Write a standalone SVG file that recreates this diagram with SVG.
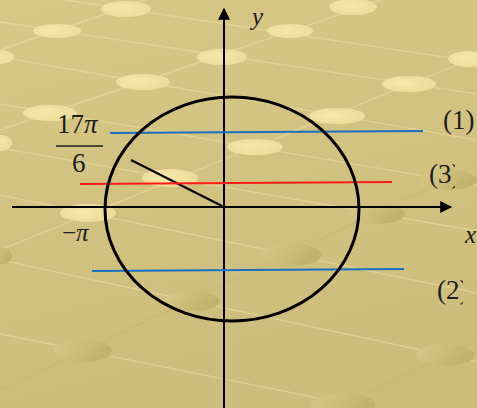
<svg xmlns="http://www.w3.org/2000/svg" width="477" height="408" viewBox="0 0 477 408">
<defs>
<linearGradient id="bg" x1="0" y1="0" x2="0.3" y2="1">
<stop offset="0" stop-color="#d8c888"/>
<stop offset="1" stop-color="#cdbd7c"/>
</linearGradient>
<radialGradient id="lt" cx="0.4" cy="0.45" r="0.6">
<stop offset="0" stop-color="#f6e9aa"/>
<stop offset="1" stop-color="#eddc9b"/>
</radialGradient>
<linearGradient id="dk" x1="0" y1="0" x2="1" y2="0.3">
<stop offset="0" stop-color="#d9c98a"/>
<stop offset="1" stop-color="#c2b16d"/>
</linearGradient>
<clipPath id="cpi"><rect x="0" y="215" width="91" height="30"/></clipPath>
<clipPath id="c3"><rect x="420" y="155" width="35" height="35"/></clipPath>
<clipPath id="c2"><rect x="430" y="270" width="33" height="35"/></clipPath>
<marker id="ah" viewBox="0 0 10 10" refX="9" refY="5" markerWidth="15" markerHeight="12" markerUnits="userSpaceOnUse" orient="auto">
<path d="M0,0 L10,5 L0,10 z" fill="#000"/>
</marker>
<style>
.gl{stroke:#ecdda0;stroke-width:1.5;opacity:.55;fill:none}
.gd{stroke:#bfae6c;stroke-width:1.2;opacity:.35;fill:none}
.l{fill:url(#lt)}
.d{fill:url(#dk)}
.t{font-family:"Liberation Serif","Times New Roman",serif;fill:#1e1e1e}
.it{font-style:italic}
</style>
</defs>
<g id="background">
<rect width="477" height="408" fill="url(#bg)"/>
<line class="gl" x1="0" y1="-10" x2="477" y2="62"/>
<line class="gl" x1="0" y1="22" x2="477" y2="94"/>
<line class="gl" x1="0" y1="57" x2="477" y2="140"/>
<line class="gl" x1="0" y1="104" x2="477" y2="185"/>
<line class="gl" x1="0" y1="148" x2="477" y2="231"/>
<line class="gl" x1="0" y1="195" x2="477" y2="293"/>
<line class="gl" x1="0" y1="260" x2="477" y2="362"/>
<line class="gl" x1="0" y1="334" x2="477" y2="430"/>
<line class="gl" x1="0" y1="50" x2="160" y2="-5"/>
<line class="gl" x1="0" y1="130" x2="382" y2="0"/>
<line class="gl" x1="0" y1="250" x2="477" y2="57"/>
<line class="gd" x1="0" y1="390" x2="477" y2="165"/>
<line class="gd" x1="260" y1="445" x2="477" y2="340"/>
<ellipse class="l" cx="126" cy="9" rx="25" ry="8"/>
<ellipse class="l" cx="353" cy="7" rx="24" ry="8"/>
<ellipse class="l" cx="57" cy="31" rx="24" ry="7"/>
<ellipse class="l" cx="290" cy="31" rx="23" ry="7"/>
<ellipse class="l" cx="0" cy="57" rx="14" ry="7"/>
<ellipse class="l" cx="222" cy="57" rx="25" ry="8"/>
<ellipse class="l" cx="470" cy="59" rx="22" ry="8"/>
<ellipse class="l" cx="143" cy="82" rx="27" ry="8"/>
<ellipse class="l" cx="409" cy="84" rx="27" ry="8"/>
<ellipse class="l" cx="50" cy="113" rx="27" ry="8"/>
<ellipse class="l" cx="337" cy="116" rx="28" ry="8"/>
<ellipse class="l" cx="0" cy="143" rx="12" ry="8"/>
<ellipse class="l" cx="255" cy="147" rx="28" ry="8"/>
<ellipse class="l" cx="170" cy="178" rx="28" ry="9"/>
<ellipse class="l" cx="88" cy="213" rx="28" ry="9"/>
<ellipse class="d" cx="448" cy="180" rx="29" ry="10"/>
<ellipse class="d" cx="377" cy="214" rx="28" ry="10"/>
<ellipse class="d" cx="0" cy="256" rx="12" ry="9"/>
<ellipse class="d" cx="292" cy="255" rx="29" ry="11"/>
<ellipse class="d" cx="192" cy="301" rx="28" ry="10"/>
<ellipse class="d" cx="83" cy="351" rx="29" ry="11"/>
<ellipse class="d" cx="445" cy="355" rx="29" ry="11"/>
<ellipse class="d" cx="343" cy="405" rx="32" ry="12"/>
</g>
<g id="connectors" fill="none">
<line id="x-axis" x1="12" y1="207" x2="451" y2="207" stroke="#000" stroke-width="2" marker-end="url(#ah)"/>
<line id="y-axis" x1="224" y1="408" x2="224" y2="9" stroke="#000" stroke-width="2" marker-end="url(#ah)"/>
<line id="terminal-side" x1="131" y1="160" x2="222" y2="206" stroke="#000" stroke-width="2"/>
<line id="line-1" x1="110" y1="133" x2="423" y2="131" stroke="#1a6fc2" stroke-width="2"/>
<line id="line-3" x1="80" y1="184" x2="392" y2="182" stroke="#ff1a1a" stroke-width="2"/>
<line id="line-2" x1="92" y1="271" x2="404" y2="269" stroke="#1a6fc2" stroke-width="2"/>
</g>
<g id="circle">
<ellipse cx="232" cy="209" rx="127" ry="112" fill="none" stroke="#000" stroke-width="3"/>
</g>
<g id="labels">
<text class="t it" x="252" y="25" font-size="25">y</text>
<text class="t it" x="465" y="243" font-size="25">x</text>
<g id="angle-label">
<text class="t" x="57" y="133" font-size="27">17<tspan class="it">π</tspan></text>
<line x1="56" y1="146" x2="103" y2="146" stroke="#1e1e1e" stroke-width="1.5"/>
<text class="t" x="72" y="172" font-size="27">6</text>
</g>
<text class="t" x="62" y="241" font-size="25" clip-path="url(#cpi)">−<tspan class="it">π</tspan></text>
<text class="t" x="443" y="129" font-size="27">(1)</text>
<text class="t" x="429" y="183" font-size="27" clip-path="url(#c3)">(3)</text>
<text class="t" x="437" y="299" font-size="27" clip-path="url(#c2)">(2)</text>
</g>
</svg>
